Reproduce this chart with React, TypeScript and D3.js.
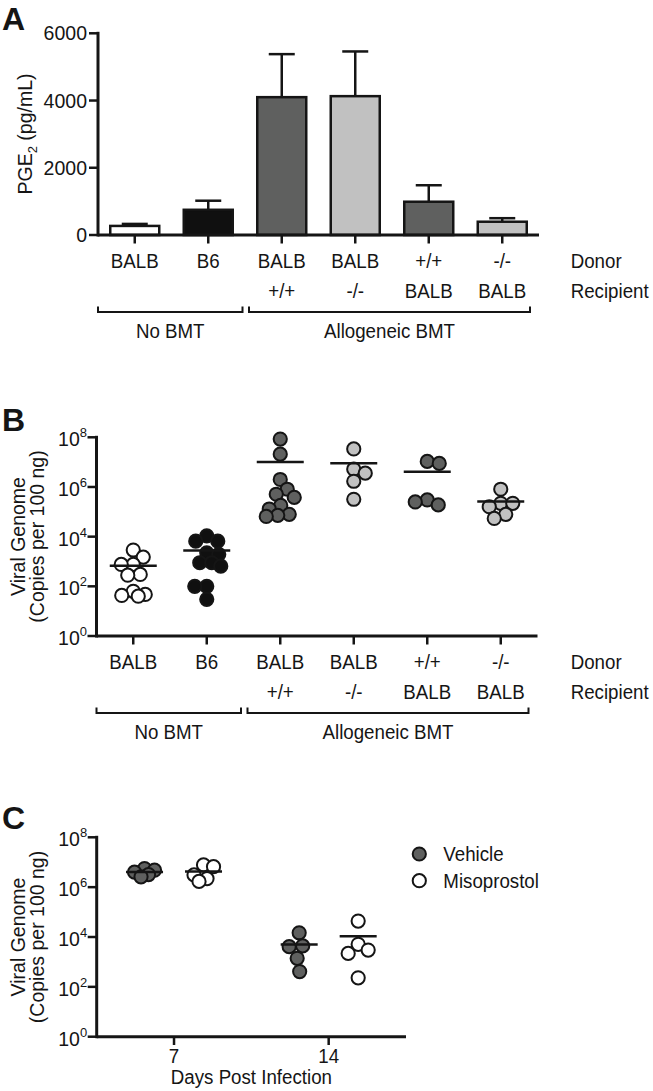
import React from 'react';
import * as d3 from 'd3';

const FONT = '"Liberation Sans", Arial, Helvetica, sans-serif';
const INK = '#151515';

// ---- groups shared by panels A and B
const donorLabels = ['BALB', 'B6', 'BALB', 'BALB', '+/+', '-/-'];
const recipientLabels = ['', '', '+/+', '-/-', 'BALB', 'BALB'];
const cohortNames = ['No BMT', 'Allogeneic BMT'];
const cohortFirst = [0, 2];
const cohortLast = [1, 5];
const groupFills = ['#ffffff', '#101010', '#5f605f', '#c1c1c1', '#5f605f', '#c1c1c1'];

// ---- panel A: PGE2 (mean and mean + SEM)
const pgeMean = [270, 750, 4100, 4130, 990, 395];
const pgeUpper = [330, 1020, 5380, 5460, 1480, 500];
const pgeTicks = [0, 2000, 4000, 6000];

// ---- panel B: viral genome copies per mouse
const viralBalb = [2900, 1500, 760, 760, 300, 280, 63, 47, 43, 40];
const viralB6 = [10700, 6600, 6600, 2240, 1950, 890, 890, 650, 100, 100, 30];
const viralWtBalb = [8.5e7, 2.1e7, 2.0e6, 8.1e5, 5.1e5, 3.8e5, 1.8e5, 1.3e5, 7.9e4, 7.2e4, 6.5e4];
const viralKoBalb = [3.4e7, 5.2e6, 3.6e6, 1.7e6, 3.2e5];
const viralBalbWt = [1.07e7, 8.9e6, 3.0e5, 2.5e5, 1.9e5];
const viralBalbKo = [8.1e5, 2.2e5, 2.2e5, 1.6e5, 7.9e4, 5.4e4];
const viralGroups = [viralBalb, viralB6, viralWtBalb, viralKoBalb, viralBalbWt, viralBalbKo];
const logTicks = [1, 1e2, 1e4, 1e6, 1e8];

// ---- panel C
const days = ['7', '14'];
const treatments = ['Vehicle', 'Misoprostol'];
const treatFills = ['#5f605f', '#ffffff'];
const vehicleDay7 = [5.6e6, 4.8e6, 4.0e6, 3.2e6, 2.6e6];
const misoDay7 = [7.8e6, 6.6e6, 3.1e6, 2.2e6, 1.7e6];
const vehicleDay14 = [14800, 4400, 4100, 1400, 410];
const misoDay14 = [43600, 5100, 3000, 2200, 230];
const dayData = [[vehicleDay7, misoDay7], [vehicleDay14, misoDay14]];

// simple beeswarm: offsets so dots overlap as little as the width allows
function swarm(ys: number[], minDist: number, maxHalf: number): number[] {
  const order = d3.range(ys.length).sort((a, b) => ys[a] - ys[b]);
  const xs = ys.map(() => 0);
  const done: number[] = [];
  let side = 1;
  for (const i of order) {
    let pick = 0;
    let best = -Infinity;
    let ok = false;
    for (let d = 0; d <= maxHalf && !ok; d += 0.5) {
      const sides = d === 0 ? [1] : [side, -side];
      for (const s of sides) {
        const off = s * d;
        const gap = done.length ? (d3.min(done, (j) => Math.hypot(xs[j] - off, ys[j] - ys[i])) as number) : Infinity;
        if (gap >= minDist) { pick = off; ok = true; break; }
        if (gap > best) { best = gap; pick = off; }
      }
    }
    xs[i] = pick;
    if (pick !== 0) side = pick > 0 ? -1 : 1;
    done.push(i);
  }
  return xs;
}

const T = (p: any) => <text fontFamily={FONT} fontSize={19.5} fill={INK} {...p} />;
// category text in the figure is a little taller than it is wide
const L = ({ x, y, children, ...p }: any) => (
  <text transform={`translate(${x},${y}) scale(0.9,1)`} fontFamily={FONT} fontSize={20.8} fill={INK} {...p}>
    {children}
  </text>
);

function Dots({ vals, cx, y, fill, half, minDist, maxHalf }: any) {
  const ys = vals.map((v: number) => y(v));
  const xs = swarm(ys, minDist, maxHalf);
  const order = d3.range(vals.length).sort((a, b) => ys[a] - ys[b]);
  const m = y(d3.mean(vals) as number);
  return (
    <g>
      {order.map((i) => (
        <circle key={i} cx={cx + xs[i]} cy={ys[i]} r={6.6} fill={fill} stroke={INK} strokeWidth={2} />
      ))}
      <line x1={cx - half} x2={cx + half} y1={m} y2={m} stroke={INK} strokeWidth={2.5} />
    </g>
  );
}

function LogYAxis({ y, x0 }: any) {
  const [b, t] = y.range();
  return (
    <g>
      <line x1={x0} x2={x0} y1={t - 1.5} y2={b + 1.5} stroke={INK} strokeWidth={3} />
      {logTicks.map((v) => (
        <g key={v}>
          <line x1={x0 - 9} x2={x0} y1={y(v)} y2={y(v)} stroke={INK} strokeWidth={2.5} />
          <T x={x0 - 9.5} y={y(v) + 9} textAnchor="end">
            10<tspan dy={-9} fontSize={13}>{Math.round(Math.log10(v))}</tspan>
          </T>
        </g>
      ))}
    </g>
  );
}

function GroupLabels({ x, y0 }: any) {
  const step = x.step();
  const [r0, r1] = x.range();
  return (
    <g>
      {donorLabels.map((d, i) => (
        <L key={'d' + i} x={x(i)} y={y0 + 32.7} textAnchor="middle">{d}</L>
      ))}
      {recipientLabels.map((d, i) => (
        <L key={'r' + i} x={x(i)} y={y0 + 62.7} textAnchor="middle">{d}</L>
      ))}
      <L x={570.7} y={y0 + 32.7}>Donor</L>
      <L x={570.7} y={y0 + 62.7}>Recipient</L>
      {cohortNames.map((name, k) => {
        const xa = k === 0 ? r0 : x(cohortFirst[k]) - step / 2 + 4;
        const xb = k === cohortNames.length - 1 ? r1 - 9 : x(cohortLast[k]) + step / 2 - 2.5;
        const yb = y0 + 77;
        return (
          <g key={name}>
            <path d={`M${xa},${yb - 5.5}V${yb}H${xb}V${yb - 5.5}`} fill="none" stroke={INK} strokeWidth={2} />
            <L x={(xa + xb) / 2} y={y0 + 102.7} textAnchor="middle">{name}</L>
          </g>
        );
      })}
    </g>
  );
}

export default function App() {
  const idx = d3.range(donorLabels.length);

  // panel A scales
  const xA = d3.scalePoint<number>().domain(idx).range([98, 539]).padding(0.5);
  const yA = d3.scaleLinear().domain([0, 6000]).range([235, 33.3]);
  const barW = 49;

  // panel B scales
  const xB = d3.scalePoint<number>().domain(idx).range([96.5, 537.5]).padding(0.5);
  const yB = d3.scaleLog().domain([1, 1e8]).range([636, 437.3]);

  // panel C scales
  const xC = d3.scalePoint<string>().domain(days).range([96.7, 406]).padding(0.5);
  const xT = d3.scalePoint<string>().domain(treatments).range([-29.5, 29.5]);
  const yC = d3.scaleLog().domain([1, 1e8]).range([1036.7, 837.3]);

  return (
    <svg width={653} height={1091} style={{ position: 'absolute', left: 0, top: 0, background: '#fff' }}>
      <rect width={653} height={1091} fill="#fff" />

      {/* ---------- A ---------- */}
      <text x={2} y={29.5} fontFamily={FONT} fontWeight="bold" fontSize={32} fill={INK}>A</text>
      <T transform="translate(32,134) rotate(-90)" textAnchor="middle">
        PGE<tspan dy={5} fontSize={13}>2</tspan><tspan dy={-5}> (pg/mL)</tspan>
      </T>
      {idx.map((i) => (
        <g key={i}>
          <line x1={xA(i)} x2={xA(i)} y1={yA(pgeMean[i])} y2={yA(pgeUpper[i])} stroke={INK} strokeWidth={2.5} />
          <line x1={xA(i)! - 13} x2={xA(i)! + 13} y1={yA(pgeUpper[i])} y2={yA(pgeUpper[i])} stroke={INK} strokeWidth={2.5} />
          <rect x={xA(i)! - barW / 2} y={yA(pgeMean[i])} width={barW} height={yA(0) - yA(pgeMean[i])}
            fill={groupFills[i]} stroke={INK} strokeWidth={2.5} />
          <line x1={xA(i)} x2={xA(i)} y1={yA(0)} y2={yA(0) + 8.5} stroke={INK} strokeWidth={2.5} />
        </g>
      ))}
      <line x1={98} x2={98} y1={yA(6000) - 1.5} y2={yA(0) + 1.5} stroke={INK} strokeWidth={3} />
      <line x1={98} x2={539} y1={yA(0)} y2={yA(0)} stroke={INK} strokeWidth={3} />
      {pgeTicks.map((v) => (
        <g key={v}>
          <line x1={89} x2={98} y1={yA(v)} y2={yA(v)} stroke={INK} strokeWidth={2.5} />
          <T x={87} y={yA(v) + 7} textAnchor="end">{v}</T>
        </g>
      ))}
      <GroupLabels x={xA} y0={235} />

      {/* ---------- B ---------- */}
      <text x={2} y={431} fontFamily={FONT} fontWeight="bold" fontSize={32} fill={INK}>B</text>
      <T transform="translate(25,536.5) rotate(-90)" textAnchor="middle">Viral Genome</T>
      <T transform="translate(44,536.5) rotate(-90)" textAnchor="middle">(Copies per 100 ng)</T>
      {viralGroups.map((vals, i) => (
        <Dots key={i} vals={vals} cx={xB(i)} y={yB} fill={groupFills[i]} half={23.5} minDist={12} maxHalf={14} />
      ))}
      <LogYAxis y={yB} x0={96.5} />
      <line x1={96.5} x2={537.5} y1={636} y2={636} stroke={INK} strokeWidth={3} />
      {idx.map((i) => (
        <line key={i} x1={xB(i)} x2={xB(i)} y1={636} y2={644.5} stroke={INK} strokeWidth={2.5} />
      ))}
      <GroupLabels x={xB} y0={636} />

      {/* ---------- C ---------- */}
      <text x={2} y={829} fontFamily={FONT} fontWeight="bold" fontSize={32} fill={INK}>C</text>
      <T transform="translate(25,937) rotate(-90)" textAnchor="middle">Viral Genome</T>
      <T transform="translate(44,937) rotate(-90)" textAnchor="middle">(Copies per 100 ng)</T>
      {days.map((d, di) =>
        treatments.map((t, ti) => (
          <Dots key={d + t} vals={dayData[di][ti]} cx={xC(d)! + xT(t)!} y={yC} fill={treatFills[ti]}
            half={18.5} minDist={13.5} maxHalf={10} />
        ))
      )}
      <LogYAxis y={yC} x0={96.7} />
      <line x1={96.7} x2={406} y1={1036.7} y2={1036.7} stroke={INK} strokeWidth={3} />
      {days.map((d) => (
        <g key={d}>
          <line x1={xC(d)} x2={xC(d)} y1={1036.7} y2={1045} stroke={INK} strokeWidth={2.5} />
          <L x={xC(d)} y={1063.3} textAnchor="middle">{d}</L>
        </g>
      ))}
      <L x={251.4} y={1084.3} textAnchor="middle">Days Post Infection</L>
      {treatments.map((t, ti) => (
        <g key={t}>
          <circle cx={419.3} cy={854 + ti * 26.7} r={6.6} fill={treatFills[ti]} stroke={INK} strokeWidth={2} />
          <L x={443.3} y={854 + ti * 26.7 + 7.2}>{t}</L>
        </g>
      ))}
    </svg>
  );
}
